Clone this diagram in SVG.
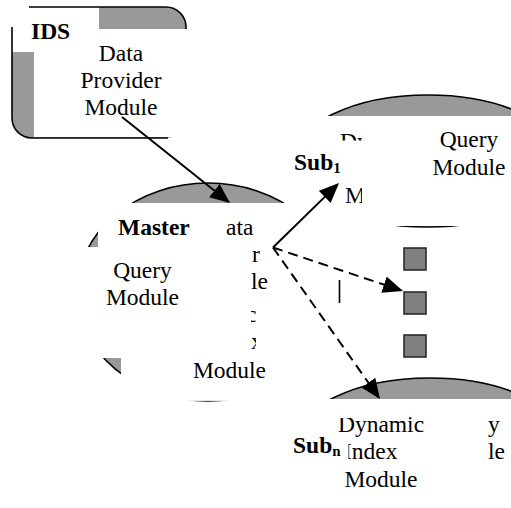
<svg xmlns="http://www.w3.org/2000/svg" width="511" height="508" viewBox="0 0 511 508">
<style>
.t{font-family:"Liberation Serif","Times New Roman",serif;font-size:23.5px;fill:#000}
.b{font-weight:bold}
.m{text-anchor:middle}
.g{fill:#999}
.w{fill:#fff}
.sh{fill:#999;stroke:#000;stroke-width:1.6}
.e{fill:none;stroke:#000;stroke-width:1.6}
.c{fill:none;stroke:#000;stroke-width:2}
.d{stroke-dasharray:10 6}
.sq{fill:#808080;stroke:#222;stroke-width:1.5}
.sub{font-size:15px}
</style>
<defs>
<marker id="ah" markerUnits="userSpaceOnUse" viewBox="0 0 21 18" markerWidth="21" markerHeight="18" refX="18" refY="8.5" orient="auto"><path d="M0,0 L20,8.5 L0,17 z" fill="#000"/></marker>
<clipPath id="cDy"><rect x="330" y="120" width="32" height="20.5"/></clipPath>
<clipPath id="cM"><rect x="330" y="180" width="32" height="30"/></clipPath>
<clipPath id="cSl"><rect x="251" y="300" width="5" height="60"/></clipPath>
</defs>
<rect width="511" height="508" fill="#fff"/>

<g id="master">
<ellipse cx="208" cy="292" rx="131" ry="109" class="sh"/>
<rect class="w" x="98" y="203" width="252" height="155"/>
<rect class="w" x="55" y="247" width="295" height="111"/>
<rect class="w" x="121" y="358" width="229" height="42.9"/>
<line class="e" x1="339.5" y1="280" x2="339.5" y2="303"/>
<text class="t b" x="118" y="235">Master</text>
<text class="t m" x="142.5" y="278">Query</text>
<text class="t m" x="142.5" y="305">Module</text>
<text class="t" x="226" y="235">ata</text>
<text class="t" x="252" y="262">r</text>
<text class="t" x="251" y="289">le</text>
<g clip-path="url(#cSl)">
<text class="t" x="246" y="322">c</text>
<text class="t" x="251" y="349">x</text>
</g>
<text class="t m" x="229.5" y="378">Module</text>
</g>

<g id="sub1">
<ellipse cx="428" cy="161" rx="135" ry="66" class="sh"/>
<rect class="w" x="288" y="116" width="223" height="110"/>
<text class="t" x="340" y="149" clip-path="url(#cDy)">Dy</text>
<text class="t" x="345" y="203" clip-path="url(#cM)">M</text>
<text class="t m" x="469" y="147">Query</text>
<text class="t m" x="469" y="175">Module</text>
<text class="t b" x="294" y="170">Sub<tspan class="sub" dy="3">1</tspan></text>
</g>

<g id="subn">
<ellipse cx="430" cy="444" rx="135" ry="66" class="sh"/>
<rect class="w" x="288" y="399" width="223" height="109"/>
<text class="t m" x="381" y="432">Dynamic</text>
<text class="t" x="344" y="459">Index</text>
<text class="t m" x="381" y="487">Module</text>
<rect class="w" x="330" y="399" width="32" height="19"/>
<rect class="w" x="330" y="438" width="18.5" height="24"/>
<text class="t" x="488" y="432">y</text>
<text class="t" x="488" y="459">le</text>
<text class="t b" x="293" y="453">Sub<tspan class="sub" dy="3">n</tspan></text>
</g>

<g id="ids">
<rect class="g" x="12" y="7" width="174" height="131" rx="20"/>
<rect class="w" x="34" y="29" width="156" height="108"/>
<rect class="w" x="12" y="7" width="87" height="45"/>
<path class="e" d="M29,7 H166 A20,20 0 0 1 186,27 V29"/>
<path class="e" d="M12,27 V118 A20,20 0 0 0 32,138 H168"/>
<text class="t b" x="31" y="38.5">IDS</text>
<text class="t m" x="121" y="61">Data</text>
<text class="t m" x="121" y="88">Provider</text>
<text class="t m" x="121" y="115">Module</text>
</g>

<g id="dots">
<rect class="sq" x="404" y="248" width="22" height="22"/>
<rect class="sq" x="404" y="292" width="22" height="22"/>
<rect class="sq" x="404" y="335" width="22" height="22"/>
</g>

<g id="connectors">
<line class="c" x1="122" y1="117" x2="228.4" y2="201.8" marker-end="url(#ah)"/>
<line class="c" x1="273" y1="247.5" x2="337.6" y2="184.4" marker-end="url(#ah)"/>
<line class="c d" x1="273" y1="247.5" x2="401.1" y2="290.4" marker-end="url(#ah)"/>
<line class="c d" x1="273" y1="247.5" x2="378.8" y2="397.4" marker-end="url(#ah)"/>
</g>
</svg>
